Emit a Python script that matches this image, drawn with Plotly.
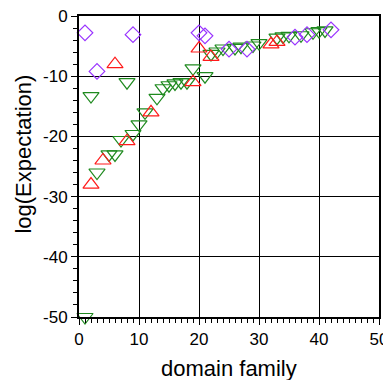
import plotly.graph_objects as go

# Purple diamonds
purple_x = [1, 3, 9, 20, 21, 25, 28, 36, 38, 42]
purple_y = [-2.8, -9.2, -3.1, -2.8, -3.3, -5.5, -5.5, -3.5, -3.1, -2.3]

# Red triangles (up)
red_x = [2, 4, 6, 8, 12, 19, 20, 22, 32, 33]
red_y = [-28, -24, -8, -20.8, -16, -11, -5.4, -6.8, -4.7, -4.3]

# Green triangles (down)
green_x = [1, 2, 3, 5, 6, 7, 8, 9, 10, 11, 13, 14, 15, 16, 17, 18, 19, 21, 22,
           23, 24, 26, 27, 29, 30, 33, 34, 35, 37, 39, 40, 41]
green_y = [-50, -13.3, -26, -23, -23, -20.6, -11, -19.6, -18, -16, -13.6, -12,
           -11.5, -11.2, -11, -11, -8.7, -10, -6.3,
           -5.9, -5.4, -5.3, -5.1, -4.9, -4.5, -3.6, -3.4, -3.3, -3.2, -2.7, -2.5, -2.4]

x_ticks = [0, 10, 20, 30, 40, 50]
y_ticks = [0, -10, -20, -30, -40, -50]
x_title = "domain family"
y_title = "log(Expectation)"

fig = go.Figure()
fig.add_trace(go.Scatter(x=green_x, y=green_y, mode="markers",
                         marker=dict(symbol="triangle-down-open", size=14,
                                     color="#1f8a1f", line=dict(width=1.2)),
                         cliponaxis=False, showlegend=False))
fig.add_trace(go.Scatter(x=red_x, y=red_y, mode="markers",
                         marker=dict(symbol="triangle-up-open", size=14,
                                     color="#ff1a1a", line=dict(width=1.2)),
                         cliponaxis=False, showlegend=False))
fig.add_trace(go.Scatter(x=purple_x, y=purple_y, mode="markers",
                         marker=dict(symbol="diamond-open", size=12,
                                     color="#9933ff", line=dict(width=1.2)),
                         cliponaxis=False, showlegend=False))

font_family = "Liberation Sans, Arial, Helvetica, sans-serif"
fig.update_layout(
    width=391, height=372,
    margin=dict(l=71, r=20, t=8, b=63),
    paper_bgcolor="white", plot_bgcolor="white",
    font=dict(family=font_family, color="black", size=17),
    annotations=[
        dict(text=x_title, xref="x domain", yref="paper", x=0.5, y=-0.17,
             xanchor="center", yanchor="middle", showarrow=False,
             font=dict(size=22)),
        dict(text=y_title, xref="x domain", yref="paper", x=-0.188, y=0.5415,
             xanchor="center", yanchor="middle", showarrow=False,
             textangle=-90, font=dict(size=22)),
    ],
)
common = dict(
    showline=True, linecolor="black", linewidth=2, mirror=True,
    ticks="outside", ticklen=6, tickwidth=1, tickcolor="black",
    showgrid=True, gridcolor="black", gridwidth=1, zeroline=False,
    tickfont=dict(size=17), automargin=False, ticklabeloverflow="allow",
)
fig.update_xaxes(
    range=[0, 50], tickvals=x_ticks, ticktext=[str(v) for v in x_ticks],
    minor=dict(dtick=1, ticks="outside", ticklen=4, tickcolor="black", showgrid=False),
    **common,
)
fig.update_yaxes(
    range=[-50, 0], tickvals=y_ticks, ticktext=[str(v) for v in y_ticks],
    minor=dict(dtick=2, ticks="outside", ticklen=4, tickcolor="black", showgrid=False),
    **common,
)
fig.write_html(
    "out.html",
    post_script="document.documentElement.style.overflow='hidden';"
                "document.body.style.overflow='hidden';",
)
